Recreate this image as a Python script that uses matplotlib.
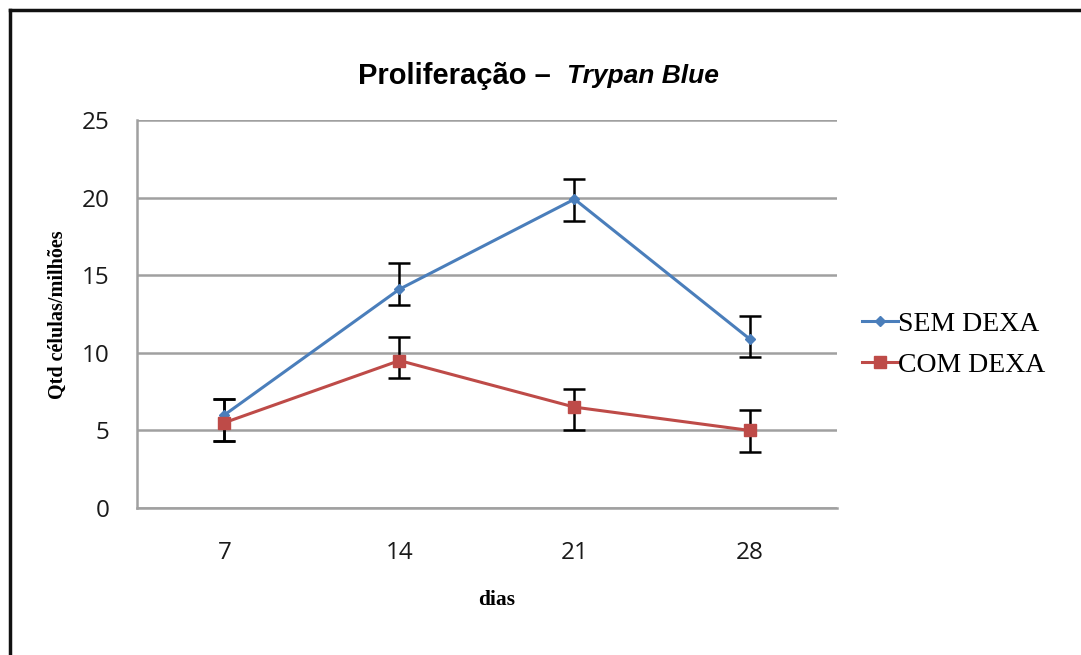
import matplotlib.pyplot as plt
from matplotlib.lines import Line2D

dias = ['7', '14', '21', '28']

sem_dexa = [6.0, 14.1, 19.9, 10.9]
sem_lo = [1.7, 1.0, 1.4, 1.2]
sem_hi = [1.0, 1.7, 1.3, 1.5]

com_dexa = [5.5, 9.5, 6.5, 5.0]
com_lo = [1.2, 1.1, 1.5, 1.4]
com_hi = [1.5, 1.55, 1.2, 1.3]

azul = '#4a7ebb'
verm = '#be4b48'
cinza = '#a0a0a0'

fig = plt.figure(figsize=(10.81, 6.55), dpi=100)
ax = fig.add_axes([0.1267, 0.2244, 0.6476, 0.5924])

x = range(len(dias))
ax.errorbar(x, sem_dexa, yerr=[sem_lo, sem_hi], color=azul, lw=2.2,
            marker='D', ms=5, ecolor='black', elinewidth=1.8, capsize=8,
            capthick=1.8, zorder=3)
ax.errorbar(x, com_dexa, yerr=[com_lo, com_hi], color=verm, lw=2.2,
            marker='s', ms=9, ecolor='black', elinewidth=1.8, capsize=8,
            capthick=1.8, zorder=3)

ax.set_xlim(-0.5, 3.5)
ax.set_ylim(0, 25)
ax.set_yticks([0, 5, 10, 15, 20, 25])
ax.set_xticks(list(x))
ax.set_xticklabels(dias)
ax.grid(axis='y', color=cinza, lw=1.8, zorder=0)
ax.set_axisbelow(True)
for s in ['top', 'right']:
    ax.spines[s].set_visible(False)
for s in ['left', 'bottom']:
    ax.spines[s].set_color(cinza)
    ax.spines[s].set_linewidth(1.8)
ax.tick_params(length=0, labelsize=17.5, colors='#1a1a1a')
for lab in ax.get_xticklabels() + ax.get_yticklabels():
    lab.set_family('Open Sans')
ax.tick_params(axis='y', pad=20)
ax.tick_params(axis='x', pad=24)

ax.set_ylabel('Qtd células/milhões', family='Liberation Serif',
              fontweight='bold', fontsize=14.5)
ax.yaxis.set_label_coords(-0.098, 0.497)
ax.set_xlabel('dias', family='Liberation Serif', fontweight='bold',
              fontsize=15.5)
ax.xaxis.set_label_coords(0.514, -0.21)

# titulo em duas partes (normal + italico)
fig.text(0.331, 0.884, 'Proliferação –', family='Liberation Sans',
         fontweight='bold', fontsize=21, ha='left', va='center')
fig.text(0.5245, 0.884, 'Trypan Blue', family='Liberation Sans',
         fontweight='bold', style='italic', fontsize=19, ha='left', va='center')

handles = [
    Line2D([], [], color=azul, lw=2.2, marker='D', ms=5),
    Line2D([], [], color=verm, lw=2.2, marker='s', ms=8),
]
fig.legend(handles, ['SEM DEXA', 'COM DEXA'], loc='center left',
           bbox_to_anchor=(0.774, 0.474), frameon=False, handlelength=1.3,
           handletextpad=0.0, labelspacing=0.55,
           prop={'family': 'Liberation Serif', 'size': 20})

# moldura (apenas borda superior e esquerda)
fig.add_artist(Line2D([0.0095, 0.0095], [0, 0.985], color='#111111', lw=2.5,
                      transform=fig.transFigure))
fig.add_artist(Line2D([0.0095, 1.0], [0.985, 0.985], color='#111111', lw=2.5,
                      transform=fig.transFigure))

fig.savefig('out.png', dpi=100)
